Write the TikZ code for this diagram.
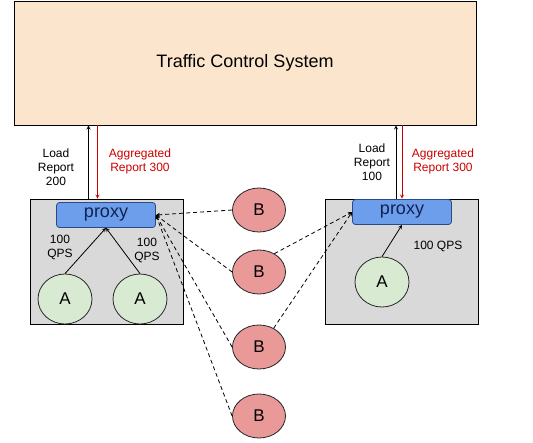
\documentclass[tikz,border=0pt]{standalone}
\usepackage{fontspec}
\setmainfont{Liberation Sans}
\usetikzlibrary{shapes.geometric}

\definecolor{tcsfill}{HTML}{FCE5CD}
\definecolor{hostgrey}{HTML}{D9D9D9}
\definecolor{proxyfill}{HTML}{6D9EEB}
\definecolor{proxyline}{HTML}{2A4A85}
\definecolor{proxytext}{HTML}{0E2352}
\definecolor{afill}{HTML}{D9EAD3}
\definecolor{bfill}{HTML}{EA9999}
\definecolor{reportred}{HTML}{CC0000}

\begin{document}
\begin{tikzpicture}[x=1pt,y=-1pt,>=stealth,line width=0.8pt,
  sysbox/.style={draw,fill=tcsfill,minimum width=462pt,minimum height=124pt,inner sep=0pt,font=\fontsize{18}{21}\selectfont},
  hostbox/.style={draw,fill=hostgrey,minimum width=153pt,minimum height=125pt,inner sep=0pt},
  proxybox/.style={draw=proxyline,fill=proxyfill,text=proxytext,rounded corners=3pt,minimum width=99pt,minimum height=25pt,inner sep=0pt,font=\fontsize{18}{21}\selectfont},
  clienta/.style={ellipse,draw=black!85,fill=afill,minimum width=54pt,minimum height=50pt,inner sep=0pt,font=\fontsize{17}{20}\selectfont},
  serverb/.style={ellipse,draw=black!85,fill=bfill,minimum width=53pt,minimum height=44pt,inner sep=0pt,font=\fontsize{17}{20}\selectfont},
  note/.style={align=center,inner sep=0pt,font=\fontsize{12}{14}\selectfont},
  rednote/.style={note,text=reportred},
  feed/.style={->,dash pattern=on 4pt off 3pt}]
\useasboundingbox (0,0) rectangle (533,442);

\node[sysbox] (tcs) at (245,63) {Traffic Control System};

\node[hostbox] (lbox) at (106.5,261.5) {};
\node[hostbox] (rbox) at (401.5,261.5) {};

\node[proxybox] (lproxy) at (106,215) {proxy};
\node[proxybox] (rproxy) at (402,212) {proxy};

\node[clienta] (la1) at (65,299) {A};
\node[clienta] (la2) at (140,299) {A};
\node[clienta] (ra) at (382,282) {A};

\node[serverb] (b1) at (259,210) {B};
\node[serverb] (b2) at (259,272) {B};
\node[serverb] (b3) at (259,347) {B};
\node[serverb] (b4) at (259,416) {B};

\node[note] (lload) at (56,167) {Load\\Report\\200};
\node[rednote] (lagg) at (140,161) {Aggregated\\Report 300};
\node[note] (rload) at (372,162) {Load\\Report\\100};
\node[rednote] (ragg) at (443,161) {Aggregated\\Report 300};

\node[note] (lqps1) at (60,247) {100\\QPS};
\node[note] (lqps2) at (147,250.5) {100\\QPS};
\node[note] (rqps) at (438,246) {100 QPS};

\coordinate (lup) at ([xshift=-18pt]lbox.north);
\coordinate (ldown) at ([xshift=-9pt]lbox.north);
\coordinate (rup) at ([xshift=-5.5pt]rbox.north);
\coordinate (rdown) at ([xshift=0.5pt]rbox.north);

\draw[->] (lup) -- (lup |- tcs.south);
\draw[->,reportred] (ldown |- tcs.south) -- (ldown);
\draw[->] (rup) -- (rup |- tcs.south);
\draw[->,reportred] (rdown |- tcs.south) -- (rdown);

\draw[->] (la1.north) -- (lproxy.south);
\draw[->] (la2.north) -- (lproxy.south);
\draw[->] (ra.north) -- (rproxy.south);

\draw[feed] (b1.west) -- (lproxy.east);
\draw[feed] (b2.west) -- (lproxy.east);
\draw[feed] (b3.west) -- (lproxy.east);
\draw[feed] (b4.west) -- (lproxy.east);

\draw[feed] (b2.50) -- (rproxy.west);
\draw[feed] (b3.52) -- (rproxy.west);
\end{tikzpicture}
\end{document}
